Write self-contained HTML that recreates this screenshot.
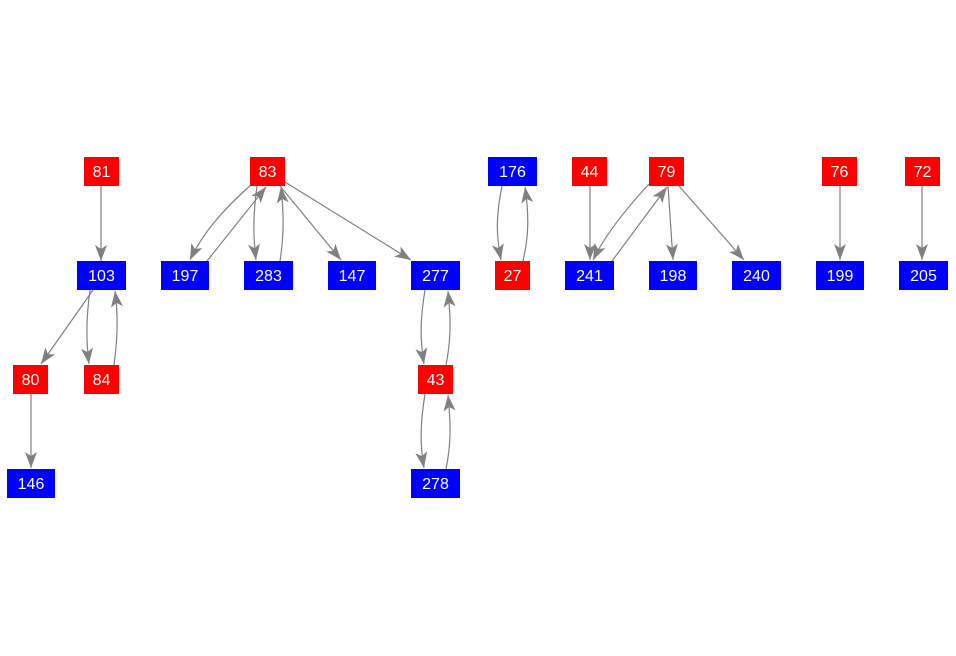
<!DOCTYPE html>
<html><head><style>
html,body{margin:0;padding:0;background:#fff;}
svg{display:block;}
text{font-family:"Liberation Sans",sans-serif;font-size:16px;fill:#fff;text-anchor:middle;}
</style></head><body>
<svg width="956" height="656" viewBox="0 0 956 656" xmlns="http://www.w3.org/2000/svg">
<defs>
<marker id="a" markerUnits="userSpaceOnUse" markerWidth="18" markerHeight="14" refX="16" refY="6" orient="auto">
<path d="M0,0 L16,6 L0,12 L4,6 z" fill="#808080"/>
</marker>
</defs>
<g stroke="#808080" stroke-width="1.2" fill="none" marker-end="url(#a)">
<path d="M101,186 L101,261"/>
<path d="M93,290 L41,364"/>
<path d="M90,290 C86,320 86,340 89,364"/>
<path d="M114,365 C118,335 118,315 115,291"/>
<path d="M31,394 L31,468"/>
<path d="M252,184 C225,208 203,232 190,260"/>
<path d="M207,261 L266,187"/>
<path d="M257,186 C253,215 253,235 256,260"/>
<path d="M280,261 C284,235 284,215 281,187"/>
<path d="M280,186 L341,260"/>
<path d="M285,182 L411,260"/>
<path d="M425,290 C420,320 420,340 424,364"/>
<path d="M446,365 C451,340 451,320 448,291"/>
<path d="M425,394 C420,425 420,445 424,468"/>
<path d="M446,469 C451,445 451,425 448,395"/>
<path d="M502,186 C496,215 496,235 501,260"/>
<path d="M523,261 C529,235 529,215 525,187"/>
<path d="M590,186 L590,260"/>
<path d="M649,184 C625,210 605,235 593,260"/>
<path d="M612,261 L667,187"/>
<path d="M668,186 L673,260"/>
<path d="M679,186 L744,260"/>
<path d="M840,186 L840,260"/>
<path d="M922,186 L922,260"/>
</g>
<g>
<rect x="84" y="157" width="35" height="29" fill="#f00"/><text x="101.5" y="177">81</text>
<rect x="250" y="157" width="35" height="29" fill="#f00"/><text x="267.5" y="177">83</text>
<rect x="488" y="157" width="49" height="29" fill="#00f"/><text x="512.5" y="177">176</text>
<rect x="572" y="157" width="35" height="29" fill="#f00"/><text x="589.5" y="177">44</text>
<rect x="649" y="157" width="35" height="29" fill="#f00"/><text x="666.5" y="177">79</text>
<rect x="822" y="157" width="35" height="29" fill="#f00"/><text x="839.5" y="177">76</text>
<rect x="905" y="157" width="35" height="29" fill="#f00"/><text x="922.5" y="177">72</text>

<rect x="77" y="261" width="49" height="29" fill="#00f"/><text x="101.5" y="281">103</text>
<rect x="161" y="261" width="48" height="29" fill="#00f"/><text x="185" y="281">197</text>
<rect x="244" y="261" width="49" height="29" fill="#00f"/><text x="268.5" y="281">283</text>
<rect x="328" y="261" width="48" height="29" fill="#00f"/><text x="352" y="281">147</text>
<rect x="411" y="261" width="49" height="29" fill="#00f"/><text x="435.5" y="281">277</text>
<rect x="495" y="261" width="35" height="29" fill="#f00"/><text x="512.5" y="281">27</text>
<rect x="565" y="261" width="49" height="29" fill="#00f"/><text x="589.5" y="281">241</text>
<rect x="649" y="261" width="48" height="29" fill="#00f"/><text x="673" y="281">198</text>
<rect x="732" y="261" width="49" height="29" fill="#00f"/><text x="756.5" y="281">240</text>
<rect x="816" y="261" width="48" height="29" fill="#00f"/><text x="840" y="281">199</text>
<rect x="899" y="261" width="49" height="29" fill="#00f"/><text x="923.5" y="281">205</text>

<rect x="13" y="365" width="35" height="29" fill="#f00"/><text x="30.5" y="385">80</text>
<rect x="84" y="365" width="35" height="29" fill="#f00"/><text x="101.5" y="385">84</text>
<rect x="418" y="365" width="35" height="29" fill="#f00"/><text x="435.5" y="385">43</text>

<rect x="7" y="469" width="48" height="29" fill="#00f"/><text x="31" y="489">146</text>
<rect x="411" y="469" width="49" height="29" fill="#00f"/><text x="435.5" y="489">278</text>
</g>
</svg>
</body></html>
